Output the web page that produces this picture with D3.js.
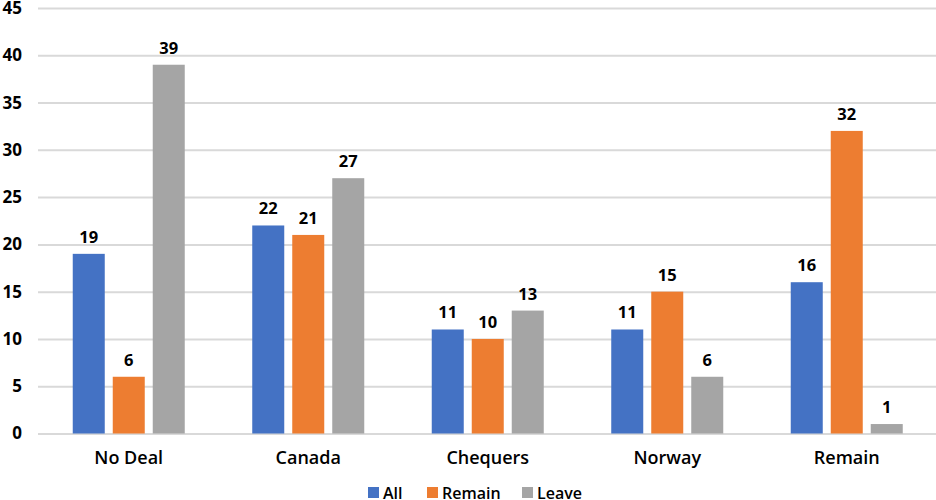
<!DOCTYPE html>
<html><head><meta charset="utf-8">
<script src="https://cdn.jsdelivr.net/npm/d3@7"></script>
<style>body{margin:0;background:#fff}svg{display:block;font-family:"Open Sans",sans-serif}</style>
</head><body><svg id="c" width="936" height="500"></svg>
<script>
const categories = ["No Deal","Canada","Chequers","Norway","Remain"];
const seriesNames = ["All","Remain","Leave"];
const allValues = [19,22,11,11,16];
const remainValues = [6,21,10,15,32];
const leaveValues = [39,27,13,6,1];
const colors = ["#4472C4","#ED7D31","#A5A5A5"];
const yTicks = [0,5,10,15,20,25,30,35,40,45];

const seriesValues = [allValues, remainValues, leaveValues];
const svg = d3.select("#c");
const y = d3.scaleLinear().domain([0,45]).range([433.5,8]);
const x0 = d3.scaleBand().domain(categories).range([39,936.5]).paddingInner(0.376).paddingOuter(0.188);
const x1 = d3.scaleBand().domain(seriesNames).range([0,x0.bandwidth()]).paddingInner(0.2);

const yAxis = d3.axisLeft(y).tickValues(yTicks).tickSize(-(936-38)).tickFormat(d3.format("d"));
const gy = svg.append("g").attr("transform","translate(38,0)").call(yAxis);
gy.select(".domain").remove();
gy.selectAll(".tick line").attr("stroke","#d9d9d9").attr("stroke-width",2);
gy.selectAll(".tick text").attr("x",-16).attr("font-size",17).attr("fill","#000")
  .attr("font-weight","bold").attr("font-family","'Open Sans',sans-serif");

const groups = svg.append("g").selectAll("g").data(categories).join("g")
  .attr("transform", d => `translate(${x0(d)},0)`);
groups.each(function(cat, ci){
  const g = d3.select(this);
  seriesNames.forEach((s, si) => {
    const v = seriesValues[si][ci];
    g.append("rect").attr("x", x1(s)).attr("y", y(v)).attr("width", x1.bandwidth())
      .attr("height", y(0)-y(v)).attr("fill", colors[si]);
    g.append("text").attr("x", x1(s)+x1.bandwidth()/2).attr("y", y(v)-11)
      .attr("text-anchor","middle").attr("font-size",16.5).attr("font-weight","bold").text(v);
  });
});

const xAxis = d3.axisBottom(x0).tickSize(0);
const gx = svg.append("g").attr("transform",`translate(0,${y(0)})`).call(xAxis);
gx.select(".domain").remove();
gx.selectAll(".tick text").attr("dy",0).attr("y",30).attr("font-size",18).attr("fill","#000")
  .attr("font-weight",600).attr("font-family","'Open Sans',sans-serif");

const legendX = [368, 427, 522];
const lg = svg.append("g");
seriesNames.forEach((s,i)=>{
  lg.append("rect").attr("x",legendX[i]).attr("y",487).attr("width",11).attr("height",11).attr("fill",colors[i]);
  lg.append("text").attr("x",legendX[i]+15).attr("y",499).attr("font-size",16).attr("font-weight",600).text(s);
});
</script></body></html>
